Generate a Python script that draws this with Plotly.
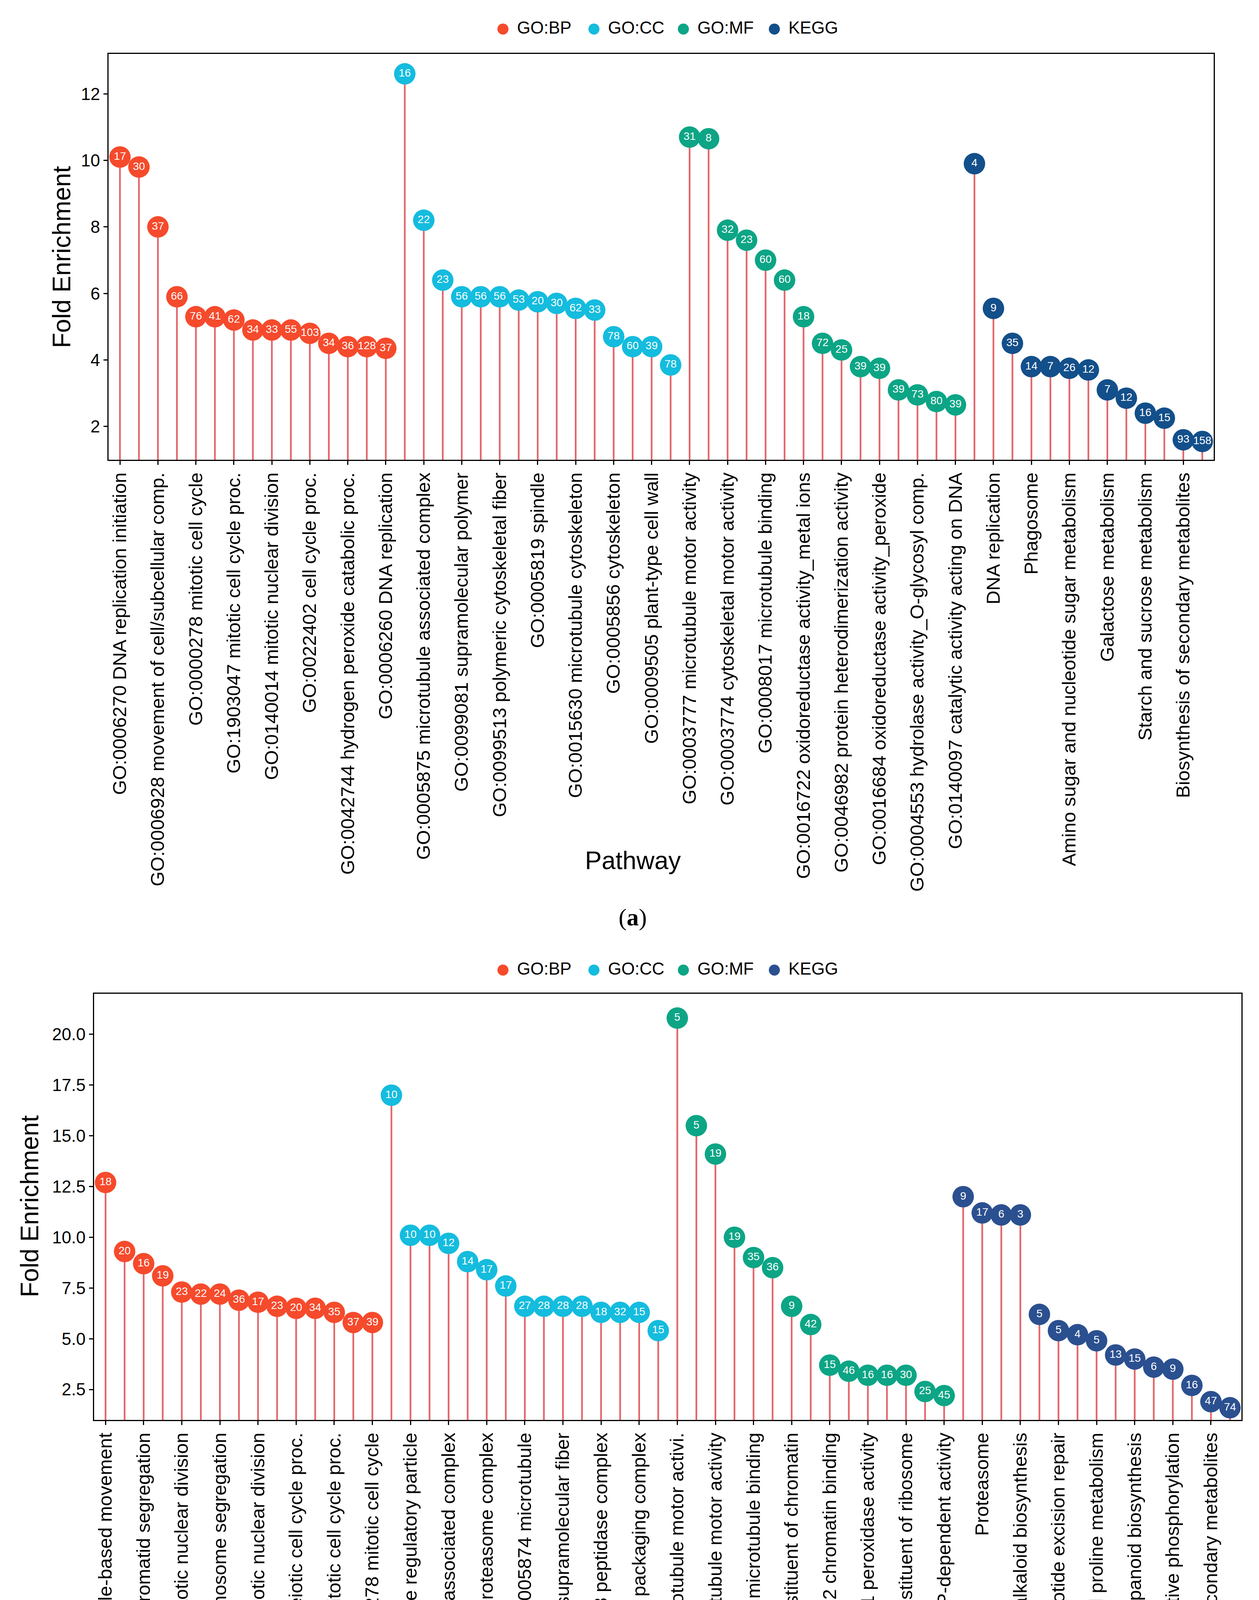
import plotly.graph_objects as go

# ---------- panel (a) ----------
a_bp_terms = ["GO:0006270 DNA replication initiation", "GO:0007018 microtubule-based movement",
              "GO:0006928 movement of cell/subcellular comp.", "GO:0007017 microtubule-based proc.",
              "GO:0000278 mitotic cell cycle", "GO:0000226 microtubule cytoskeleton org.",
              "GO:1903047 mitotic cell cycle proc.", "GO:0006261 DNA-templated DNA replication",
              "GO:0140014 mitotic nuclear division", "GO:0000280 nuclear division",
              "GO:0022402 cell cycle proc.", "GO:0051321 meiotic cell cycle",
              "GO:0042744 hydrogen peroxide catabolic proc.", "GO:0007049 cell cycle",
              "GO:0006260 DNA replication"]
a_bp_fe = [10.1, 9.8, 8.0, 5.9, 5.3, 5.3, 5.2, 4.9, 4.9, 4.9, 4.8, 4.5, 4.4, 4.4, 4.35]
a_bp_n = [17, 30, 37, 66, 76, 41, 62, 34, 33, 55, 103, 34, 36, 128, 37]

a_cc_terms = ["GO:0005871 kinesin complex", "GO:0005875 microtubule associated complex",
              "GO:0000786 nucleosome", "GO:0099081 supramolecular polymer",
              "GO:0099512 supramolecular fiber", "GO:0099513 polymeric cytoskeletal fiber",
              "GO:0005874 microtubule", "GO:0005819 spindle", "GO:0044815 DNA packaging complex",
              "GO:0015630 microtubule cytoskeleton", "GO:0032993 protein-DNA complex",
              "GO:0005856 cytoskeleton", "GO:0099080 supramolecular complex",
              "GO:0009505 plant-type cell wall", "GO:0005618 cell wall"]
a_cc_fe = [12.6, 8.2, 6.4, 5.9, 5.9, 5.9, 5.8, 5.75, 5.7, 5.55, 5.5, 4.7, 4.4, 4.4, 3.85]
a_cc_n = [16, 22, 23, 56, 56, 56, 53, 20, 30, 62, 33, 78, 60, 39, 78]

a_mf_terms = ["GO:0003777 microtubule motor activity", "GO:0003688 DNA replication origin binding",
              "GO:0003774 cytoskeletal motor activity", "GO:0030527 structural constituent of chromatin",
              "GO:0008017 microtubule binding", "GO:0015631 tubulin binding",
              "GO:0016722 oxidoreductase activity_metal ions", "GO:0008092 cytoskeletal protein binding",
              "GO:0046982 protein heterodimerization activity", "GO:0004601 peroxidase activity",
              "GO:0016684 oxidoreductase activity_peroxide", "GO:0016209 antioxidant activity",
              "GO:0004553 hydrolase activity_O-glycosyl comp.", "GO:0016798 hydrolase activity_glycosyl bonds",
              "GO:0140097 catalytic activity acting on DNA"]
a_mf_fe = [10.7, 10.65, 7.9, 7.6, 7.0, 6.4, 5.3, 4.5, 4.3, 3.8, 3.75, 3.1, 2.95, 2.75, 2.65]
a_mf_n = [31, 8, 32, 23, 60, 60, 18, 72, 25, 39, 39, 39, 73, 80, 39]

a_kegg_terms = ["Glycosphingolipid biosyn-globo and isoglobo series", "DNA replication",
                "Phenylpropanoid biosynthesis", "Phagosome", "Cyanoamino acid metabolism",
                "Amino sugar and nucleotide sugar metabolism", "Proteasome", "Galactose metabolism",
                "Biosynthesis of nucleotide sugars", "Starch and sucrose metabolism",
                "Glycolysis/Gluconeogenesis", "Biosynthesis of secondary metabolites", "Metabolic pathways"]
a_kegg_fe = [9.9, 5.55, 4.5, 3.8, 3.8, 3.75, 3.7, 3.1, 2.85, 2.4, 2.25, 1.6, 1.55]
a_kegg_n = [4, 9, 35, 14, 7, 26, 12, 7, 12, 16, 15, 93, 158]

# ---------- panel (b) ----------
b_bp_terms = ["GO:0007018 microtubule-based movement", "GO:0006928 movement of cell/subcellular comp.",
              "GO:0000070 mitotic sister chromatid segregation", "GO:0000819 sister chromatid segregation",
              "GO:0140014 mitotic nuclear division", "GO:0098813 nuclear chromosome segregation",
              "GO:0007059 chromosome segregation", "GO:0000280 nuclear division",
              "GO:0140013 meiotic nuclear division", "GO:0051321 meiotic cell cycle",
              "GO:1903046 meiotic cell cycle proc.", "GO:0007017 microtubule-based proc.",
              "GO:1903047 mitotic cell cycle proc.", "GO:0048285 organelle fission",
              "GO:0000278 mitotic cell cycle"]
b_bp_fe = [12.7, 9.3, 8.7, 8.1, 7.3, 7.2, 7.2, 6.9, 6.8, 6.6, 6.5, 6.5, 6.3, 5.8, 5.8]
b_bp_n = [18, 20, 16, 19, 23, 22, 24, 36, 17, 23, 20, 34, 35, 37, 39]

b_cc_terms = ["GO:0005871 kinesin complex", "GO:0005838 proteasome regulatory particle",
              "GO:0022624 proteasome accessory complex", "GO:0005875 microtubule associated complex",
              "GO:0005819 spindle", "GO:0000502 proteasome complex", "GO:1905369 endopeptidase complex",
              "GO:0005874 microtubule", "GO:0099081 supramolecular polymer",
              "GO:0099512 supramolecular fiber", "GO:0099513 polymeric cytoskeletal fiber",
              "GO:1905368 peptidase complex", "GO:0015630 microtubule cytoskeleton",
              "GO:0044815 DNA packaging complex", "GO:0032993 protein-DNA complex"]
b_cc_fe = [17.0, 10.1, 10.1, 9.7, 8.8, 8.4, 7.6, 6.6, 6.6, 6.6, 6.6, 6.3, 6.3, 6.3, 5.4]
b_cc_n = [10, 10, 10, 12, 14, 17, 17, 27, 28, 28, 28, 18, 32, 15, 15]

b_mf_terms = ["GO:0008574 plus-end_microtubule motor activi.", "GO:0036402 proteasome-activating activity",
              "GO:0003777 microtubule motor activity", "GO:0003774 cytoskeletal motor activity",
              "GO:0008017 microtubule binding", "GO:0015631 tubulin binding",
              "GO:0030527 structural constituent of chromatin", "GO:0008092 cytoskeletal protein binding",
              "GO:0003682 chromatin binding", "GO:0005198 structural molecule activity",
              "GO:0004601 peroxidase activity", "GO:0016684 oxidoreductase activity_peroxide",
              "GO:0003735 structural constituent of ribosome", "GO:0016887 ATP hydrolysis activity",
              "GO:0140657 ATP-dependent activity"]
b_mf_fe = [20.8, 15.5, 14.1, 10.0, 9.0, 8.5, 6.6, 5.7, 3.7, 3.4, 3.2, 3.2, 3.2, 2.4, 2.2]
b_mf_n = [5, 5, 19, 19, 35, 36, 9, 42, 15, 46, 16, 16, 30, 25, 45]

b_kegg_terms = ["DNA replication", "Proteasome", "Mismatch repair", "Isoquinoline alkaloid biosynthesis",
                "Homologous recombination", "Nucleotide excision repair", "Tyrosine metabolism",
                "Arginine and proline metabolism", "Glycolysis/Gluconeogenesis",
                "Phenylpropanoid biosynthesis", "Carbon fixation in photosynthetic organisms",
                "Oxidative phosphorylation", "Ribosome", "Biosynthesis of secondary metabolites",
                "Metabolic pathways"]
b_kegg_fe = [12.0, 11.2, 11.1, 11.1, 6.2, 5.4, 5.2, 4.9, 4.2, 4.0, 3.6, 3.5, 2.7, 1.9, 1.6]
b_kegg_n = [9, 17, 6, 3, 5, 5, 4, 5, 13, 15, 6, 9, 16, 47, 74]

groups = ["GO:BP", "GO:CC", "GO:MF", "KEGG"]
colors_a = ["#F64A2C", "#14BCDE", "#0CA585", "#134F8A"]
colors_b = ["#F64A2C", "#14BCDE", "#0CA585", "#2B5090"]
stem_color = "#E3666B"

panels = [
    ("x", "y", colors_a,
     [(a_bp_terms, a_bp_fe, a_bp_n), (a_cc_terms, a_cc_fe, a_cc_n),
      (a_mf_terms, a_mf_fe, a_mf_n), (a_kegg_terms, a_kegg_fe, a_kegg_n)]),
    ("x2", "y2", colors_b,
     [(b_bp_terms, b_bp_fe, b_bp_n), (b_cc_terms, b_cc_fe, b_cc_n),
      (b_mf_terms, b_mf_fe, b_mf_n), (b_kegg_terms, b_kegg_fe, b_kegg_n)]),
]

fig = go.Figure()
n_cats = []
for xa, ya, cols, data in panels:
    all_terms = sum([d[0] for d in data], [])
    all_fe = sum([d[1] for d in data], [])
    n_cats.append(len(all_terms))
    fig.add_trace(go.Bar(x=all_terms, y=all_fe, width=0.09, marker_color=stem_color,
                         marker_line_width=0, showlegend=False, xaxis=xa, yaxis=ya,
                         hoverinfo="skip"))
    for g, c, (t, fe, n) in zip(groups, cols, data):
        fig.add_trace(go.Scatter(
            x=t, y=fe, mode="markers+text", name=g, text=[str(v) for v in n],
            textposition="middle center", showlegend=False,
            textfont=dict(color="white", size=28, family="Liberation Sans"),
            marker=dict(color=c, size=55, line_width=0), xaxis=xa, yaxis=ya))

W, H = 3224, 4847
axis_common = dict(showline=True, linecolor="black", linewidth=3, mirror=True, ticks="outside",
                   ticklen=10, tickwidth=3, tickcolor="black", showgrid=False, zeroline=False)
xfont = dict(size=49, color="black", family="Liberation Sans")
yfont = dict(size=44, color="black", family="Liberation Sans")
fig.update_layout(
    width=W, height=H, plot_bgcolor="white", paper_bgcolor="white",
    margin=dict(l=0, r=0, t=0, b=0), barmode="overlay", showlegend=False,
    font=dict(family="Liberation Sans", color="black"),
    xaxis=dict(domain=[270 / W, 3100 / W], anchor="y", tickangle=-90, type="category",
               range=[-0.6, n_cats[0] - 0.4], tickfont=xfont, **axis_common),
    yaxis=dict(domain=[1 - 1169 / H, 1 - 130 / H], anchor="x", range=[1.0, 13.2],
               tickvals=[2, 4, 6, 8, 10, 12], tickfont=yfont, **axis_common),
    xaxis2=dict(domain=[233 / W, 3171 / W], anchor="y2", tickangle=-90, type="category",
                range=[-0.6, n_cats[1] - 0.4], tickfont=xfont, **axis_common),
    yaxis2=dict(domain=[1 - 3627 / H, 1 - 2536 / H], anchor="x2", range=[1.0, 22.0],
                tickvals=[2.5, 5, 7.5, 10, 12.5, 15, 17.5, 20],
                ticktext=["2.5", "5.0", "7.5", "10.0", "12.5", "15.0", "17.5", "20.0"],
                tickfont=yfont, **axis_common),
)

# legends drawn as coloured dots + labels
leg_x = [1280, 1513, 1742, 1975]
for leg_y, cols in [(62, colors_a), (2471, colors_b)]:
    for lx, g, c in zip(leg_x, groups, cols):
        fig.add_annotation(xref="paper", yref="paper", x=lx / W, y=1 - leg_y / H, text="●",
                           showarrow=False, xanchor="center", yanchor="middle",
                           font=dict(size=66, color=c))
        fig.add_annotation(xref="paper", yref="paper", x=(lx + 34) / W, y=1 - leg_y / H, text=g,
                           showarrow=False, xanchor="left", yanchor="middle",
                           font=dict(size=44, color="black"))

ann = [
    dict(text="Fold Enrichment", x=150 / W, y=1 - 650 / H, textangle=-90, font_size=64),
    dict(text="Pathway", x=0.5, y=1 - 2195 / H, font_size=64),
    dict(text="(<b>a</b>)", x=0.5, y=1 - 2340 / H, font=dict(size=62, family="Liberation Serif")),
    dict(text="Fold Enrichment", x=68 / W, y=1 - 3080 / H, textangle=-90, font_size=64),
    dict(text="Pathway", x=0.5, y=1 - 4666 / H, font_size=64),
    dict(text="(<b>b</b>)", x=0.5, y=1 - 4790 / H, font=dict(size=62, family="Liberation Serif")),
]
for a in ann:
    fig.add_annotation(xref="paper", yref="paper", showarrow=False, xanchor="center",
                       yanchor="middle", **a)

fig.write_html("out.html")
